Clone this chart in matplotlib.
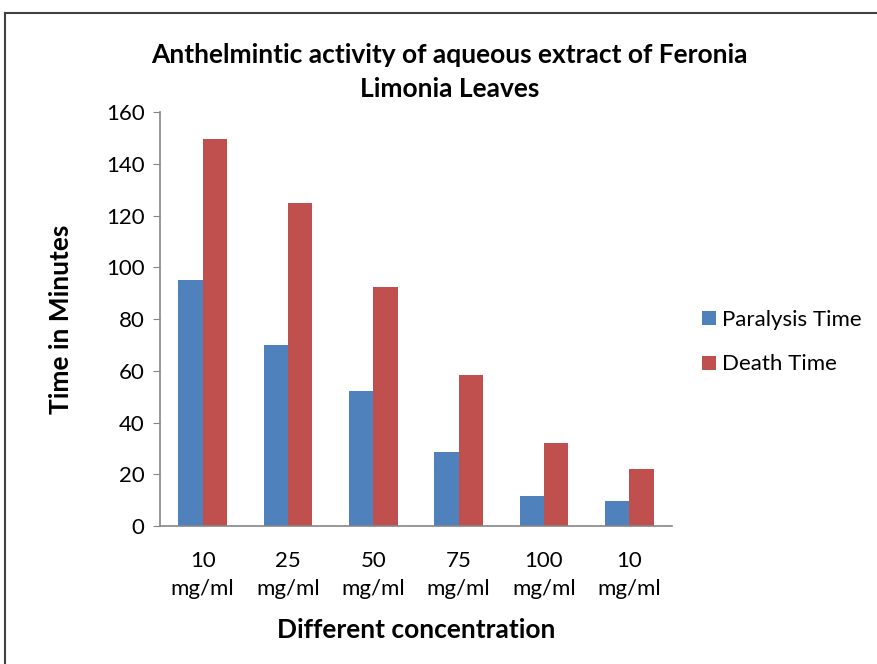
import matplotlib
matplotlib.use("Agg")
import matplotlib.pyplot as plt
import numpy as np
from matplotlib.lines import Line2D

plt.rcParams['font.family'] = ['Lato', 'DejaVu Sans']

categories = ["10\nmg/ml", "25\nmg/ml", "50\nmg/ml", "75\nmg/ml", "100\nmg/ml", "10\nmg/ml"]
paralysis = [95, 70, 52, 28.5, 11.7, 9.7]
death = [149.5, 125, 92.4, 58.5, 32, 22]

blue = "#4F81BD"
red = "#C0504D"

fig = plt.figure(figsize=(8.78, 6.64), dpi=100)
ax = fig.add_axes([0.1822, 0.2078, 0.5832, 0.6235])

x = np.arange(len(categories))
w = 1 / 3.5
ax.bar(x - w / 2, paralysis, w, color=blue, label="Paralysis Time")
ax.bar(x + w / 2, death, w, color=red, label="Death Time")

ax.set_xlim(-0.5, len(categories) - 0.5)
ax.set_ylim(0, 160)
ax.set_yticks(np.arange(0, 161, 20))
ax.set_xticks(x)
ax.set_xticklabels(categories, fontsize=16, linespacing=1.5)
ax.tick_params(axis='x', length=0, pad=18)
ax.tick_params(axis='y', labelsize=16, length=5, color="#868686", pad=6)

for s in ["top", "right"]:
    ax.spines[s].set_visible(False)
for s in ["left", "bottom"]:
    ax.spines[s].set_color("#868686")
    ax.spines[s].set_linewidth(1.2)

ax.set_ylabel("Time in Minutes", fontsize=19, fontweight="bold", labelpad=24)
ax.set_xlabel("Different concentration", fontsize=19, fontweight="bold", labelpad=14)

fig.text(0.512, 0.892, "Anthelmintic activity of aqueous extract of Feronia\nLimonia Leaves",
         ha="center", va="center", fontsize=19, fontweight="bold", linespacing=1.5)

ax.legend(loc="center left", bbox_to_anchor=(1.02, 0.444), frameon=False, fontsize=16,
          handlelength=0.6, handleheight=0.6, handletextpad=0.3, labelspacing=1.1)

# outer chart frame
fig.add_artist(Line2D([5 / 878, 5 / 878], [0, 1 - 13 / 664], transform=fig.transFigure, color="#404040", lw=1.5))
fig.add_artist(Line2D([5 / 878, 1], [1 - 13 / 664, 1 - 13 / 664], transform=fig.transFigure, color="#404040", lw=1.5))

fig.savefig("out.png", dpi=100)
